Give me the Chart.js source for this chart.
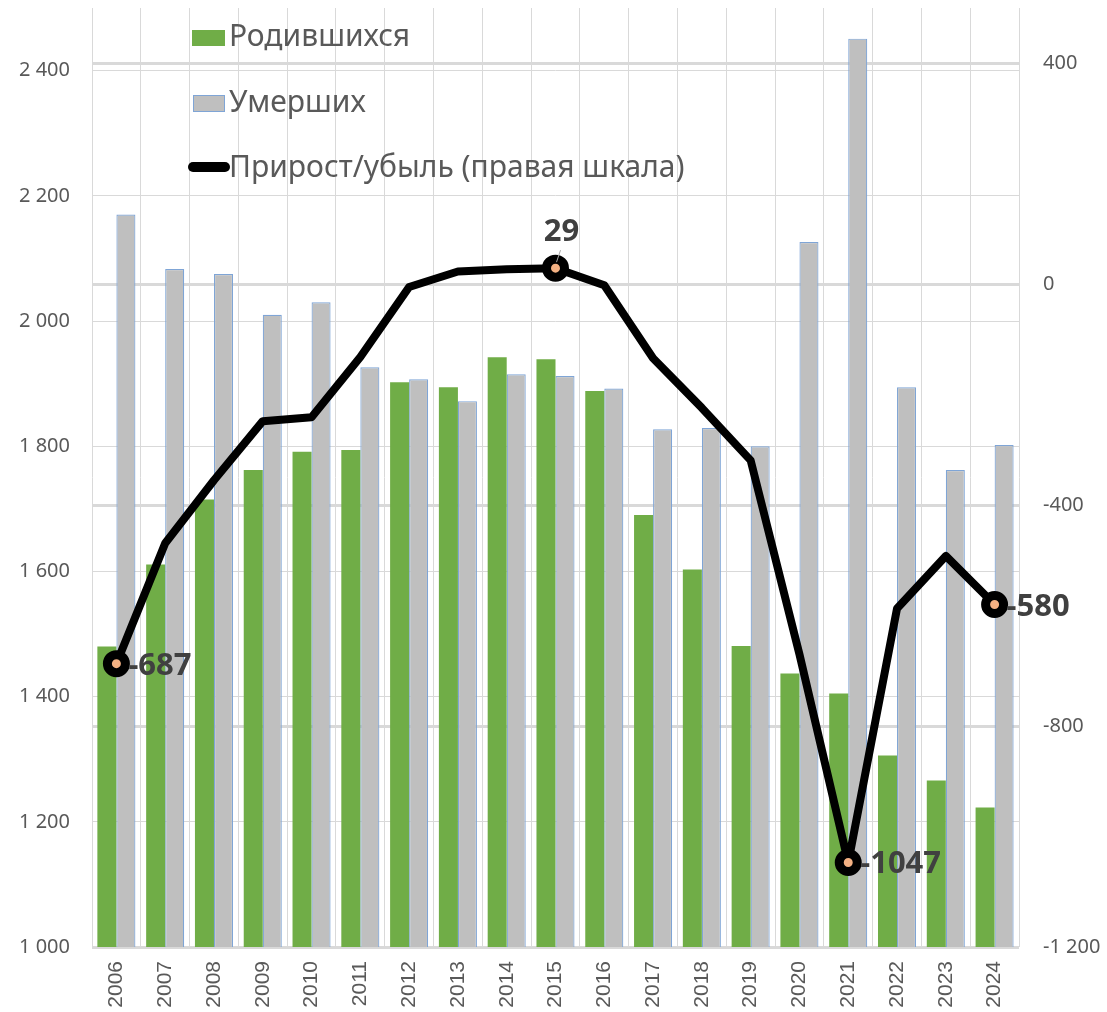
<!DOCTYPE html>
<html>
<head>
<meta charset="utf-8">
<script src="https://cdn.jsdelivr.net/npm/chart.js@4.4.1/dist/chart.umd.min.js"></script>
<style>
  html, body { margin: 0; padding: 0; background: #ffffff; }
  #wrap { width: 1107px; height: 1012px; }
</style>
</head>
<body>
<div id="wrap"><canvas id="c" width="1107" height="1012"></canvas></div>
<script>
const years = ['2006','2007','2008','2009','2010','2011','2012','2013','2014','2015','2016','2017','2018','2019','2020','2021','2022','2023','2024'];
const births = [1480, 1611, 1715, 1762, 1791, 1794, 1902, 1894, 1942, 1939, 1888, 1690, 1603, 1481, 1437, 1405, 1306, 1266, 1223];
const deaths = [2170, 2083, 2075, 2010, 2030, 1926, 1907, 1872, 1915, 1912, 1892, 1827, 1829, 1800, 2126, 2451, 1894, 1762, 1802];
const growth = [-687, -469, -355, -248, -241, -132, -5, 23, 27, 29, -2, -134, -224, -319, -670, -1047, -587, -492, -580];
const labelledPoints = [0, 9, 15, 18];
const seriesNames = ['Родившихся', 'Умерших', 'Прирост/убыль (правая шкала)'];
const leftTicks = [1000, 1200, 1400, 1600, 1800, 2000, 2200, 2400];
const rightTicks = [-1200, -800, -400, 0, 400];

function fmt(v) {
  const s = Math.abs(v).toString().replace(/\B(?=(\d{3})+(?!\d))/g, ' ');
  return (v < 0 ? '-' : '') + s;
}

const TXT = '#595959';
const BAR_EDGE = '#7fa5d6';

const customLegend = {
  id: 'customLegend',
  afterDraw(chart) {
    const ctx = chart.ctx;
    ctx.save();
    ctx.fillStyle = '#70ad47';
    ctx.fillRect(192, 30, 33, 16);
    ctx.fillStyle = '#bfbfbf';
    ctx.fillRect(193, 95, 32, 17);
    ctx.strokeStyle = BAR_EDGE;
    ctx.lineWidth = 1;
    ctx.strokeRect(193.5, 95.5, 31, 16);
    ctx.strokeStyle = '#000000';
    ctx.lineWidth = 10;
    ctx.lineCap = 'round';
    ctx.beginPath();
    ctx.moveTo(193, 167);
    ctx.lineTo(225, 167);
    ctx.stroke();
    ctx.fillStyle = TXT;
    ctx.font = '30px "Noto Sans"';
    ctx.textBaseline = 'middle';
    ctx.textAlign = 'left';
    ctx.fillText(seriesNames[0], 229, 37);
    ctx.fillText(seriesNames[1], 229, 103);
    ctx.fillText(seriesNames[2], 229, 168);
    ctx.restore();
  }
};

const pointLabels = {
  id: 'pointLabels',
  afterDatasetsDraw(chart) {
    const meta = chart.getDatasetMeta(2);
    const ctx = chart.ctx;
    ctx.save();
    ctx.font = 'bold 31px "Noto Sans"';
    ctx.fillStyle = '#404040';
    ctx.textBaseline = 'alphabetic';
    labelledPoints.forEach(i => {
      const p = meta.data[i];
      const txt = String(growth[i]);
      if (i === 9) {
        ctx.strokeStyle = '#a6a6a6';
        ctx.lineWidth = 1;
        ctx.beginPath();
        ctx.moveTo(p.x + 1, p.y - 6);
        ctx.lineTo(p.x + 5, p.y - 18);
        ctx.stroke();
        ctx.textAlign = 'center';
        ctx.fillText(txt, p.x + 6, p.y - 27);
      } else {
        ctx.textAlign = 'left';
        ctx.fillText(txt, p.x + 12, p.y + 11);
      }
    });
    ctx.restore();
  }
};

function noPad(s) {
  s.paddingTop = 0; s.paddingBottom = 0; s.paddingLeft = 0; s.paddingRight = 0;
}

new Chart(document.getElementById('c'), {
  type: 'bar',
  data: {
    labels: years,
    datasets: [
      {
        label: seriesNames[0],
        data: births,
        backgroundColor: '#70ad47',
        borderWidth: 0,
        yAxisID: 'y',
        order: 1,
        categoryPercentage: 0.78,
        barPercentage: 1.0
      },
      {
        label: seriesNames[1],
        data: deaths,
        backgroundColor: '#bfbfbf',
        borderColor: BAR_EDGE,
        borderWidth: 1.2,
        borderSkipped: false,
        yAxisID: 'y',
        order: 2,
        categoryPercentage: 0.78,
        barPercentage: 1.0
      },
      {
        type: 'line',
        label: seriesNames[2],
        data: growth,
        borderColor: '#000000',
        borderWidth: 8,
        borderJoinStyle: 'round',
        borderCapStyle: 'round',
        tension: 0,
        fill: false,
        yAxisID: 'y1',
        order: 0,
        clip: false,
        pointRadius: years.map((_, i) => labelledPoints.includes(i) ? 9 : 0),
        pointHoverRadius: 0,
        pointBorderWidth: 9,
        pointBorderColor: '#000000',
        pointBackgroundColor: '#f4b183'
      }
    ]
  },
  options: {
    responsive: false,
    animation: false,
    events: [],
    layout: { autoPadding: false, padding: { top: 8, left: 0, right: 0, bottom: 0 } },
    plugins: {
      legend: { display: false },
      tooltip: { enabled: false }
    },
    scales: {
      x: {
        offset: true,
        grid: { color: '#d9d9d9', lineWidth: 1, drawTicks: false, offset: true },
        border: { display: false },
        ticks: {
          minRotation: 90, maxRotation: 90,
          padding: 14,
          color: TXT,
          font: { family: '"Liberation Sans"', size: 21 }
        },
        afterFit(s) { s.height = 65; noPad(s); }
      },
      y: {
        position: 'left',
        min: 1000, max: 2500,
        afterBuildTicks(s) { s.ticks = leftTicks.map(v => ({ value: v })); },
        ticks: {
          padding: 22,
          color: TXT,
          font: { family: '"Noto Sans"', size: 20 },
          callback: v => fmt(v)
        },
        grid: { color: '#d9d9d9', lineWidth: 1, drawTicks: false },
        border: { display: false },
        afterFit(s) { s.width = 92; noPad(s); }
      },
      y1: {
        position: 'right',
        min: -1200, max: 500,
        afterBuildTicks(s) { s.ticks = rightTicks.map(v => ({ value: v })); },
        ticks: {
          padding: 24,
          color: TXT,
          font: { family: '"Noto Sans"', size: 20 },
          callback: v => fmt(v)
        },
        grid: { color: '#d9d9d9', lineWidth: 3, drawTicks: false },
        border: { display: false },
        afterFit(s) { s.width = 88; noPad(s); }
      }
    }
  },
  plugins: [pointLabels, customLegend]
});
</script>
</body>
</html>
